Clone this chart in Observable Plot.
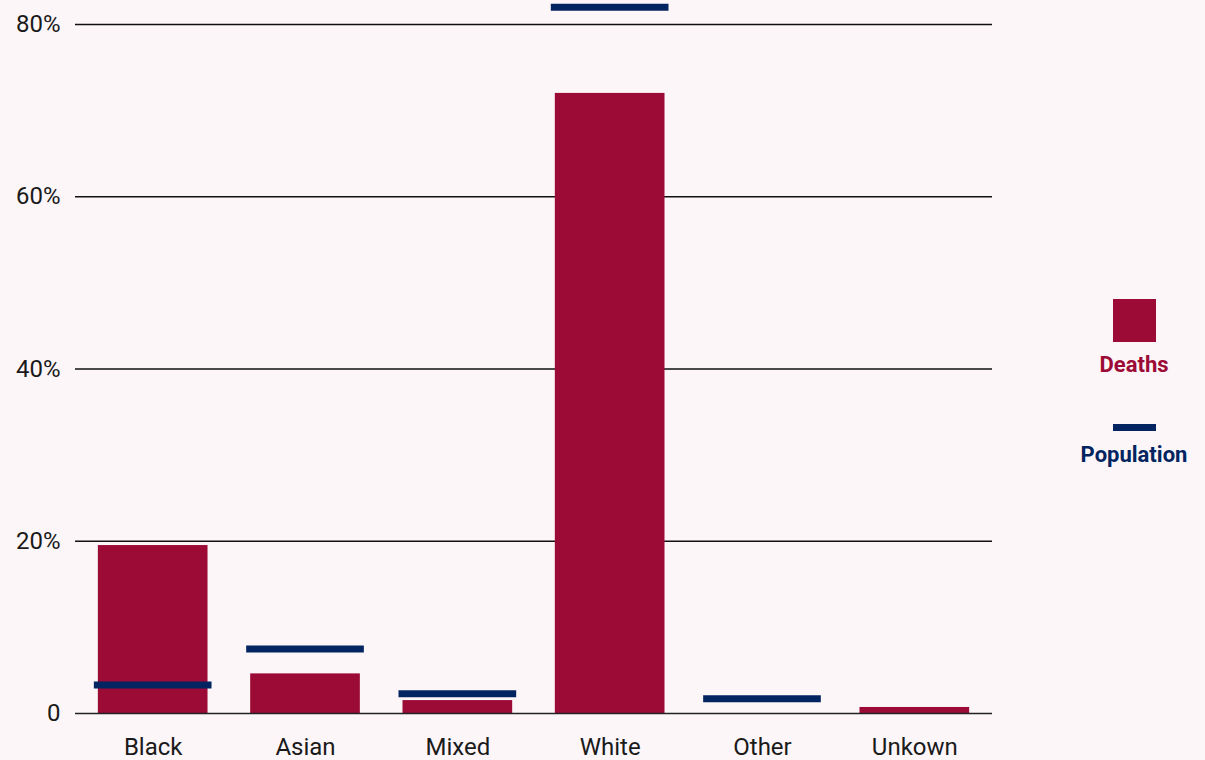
<!DOCTYPE html>
<html>
<head>
<meta charset="utf-8">
<script src="https://cdn.jsdelivr.net/npm/d3@7"></script>
<script src="https://cdn.jsdelivr.net/npm/@observablehq/plot@0.6"></script>
<style>
  html, body { margin: 0; padding: 0; background: #fcf6f8; }
  #wrap { position: relative; width: 1205px; height: 760px; overflow: hidden; }
  #legend { position: absolute; left: 1059px; top: 299px; width: 150px; font-family: Roboto, "Noto Sans", sans-serif; font-weight: 700; font-size: 22px; text-align: center; }
  .sw { margin: 0 auto; width: 43px; }
</style>
</head>
<body>
<div id="wrap">
  <div id="chart"></div>
  <div id="legend">
    <div class="sw" style="height:43px;background:#9c0a36;"></div>
    <div style="color:#9c0a36;margin-top:10px;line-height:26px;">Deaths</div>
    <div class="sw" style="height:7px;background:#022460;margin-top:46px;"></div>
    <div style="color:#022460;margin-top:11px;line-height:26px;">Population</div>
  </div>
</div>
<script>
const categories = ["Black", "Asian", "Mixed", "White", "Other", "Unkown"];
const deaths = [19.5, 4.6, 1.5, 72.0, 0, 0.7];
const population = [3.3, 7.5, 2.3, 82.0, 1.7, null];
const yTicks = [0, 20, 40, 60, 80];

const deathRows = categories.map((c, i) => ({category: c, value: deaths[i]}));
const popRows = categories.map((c, i) => ({category: c, value: population[i]})).filter(d => d.value != null);

const chart = Plot.plot({
  width: 1205,
  height: 760,
  marginLeft: 75,
  marginRight: 213,
  marginTop: 24,
  marginBottom: 47,
  style: {background: "#fcf6f8", fontFamily: "Roboto, 'Noto Sans', sans-serif", fontSize: "24px", fontWeight: 400, color: "#1a1a1a"},
  x: {domain: categories, paddingInner: 0.28, paddingOuter: 0.15, round: false, label: null, tickSize: 0, tickPadding: 24},
  y: {domain: [0, 80], ticks: yTicks, label: null, tickSize: 0, tickPadding: 15, tickFormat: d => d === 0 ? "0" : d + "%"},
  marks: [
    Plot.ruleY(yTicks.filter(d => d > 0), {stroke: "#111", strokeWidth: 1.3}),
    Plot.barY(deathRows, {x: "category", y: "value", fill: "#9c0a36"}),
    Plot.ruleY([0], {stroke: "#222", strokeWidth: 1.5}),
    Plot.tickY(popRows, {x: "category", y: "value", stroke: "#022460", strokeWidth: 7, insetLeft: -4, insetRight: -4})
  ]
});
document.getElementById("chart").appendChild(chart);
</script>
</body>
</html>
